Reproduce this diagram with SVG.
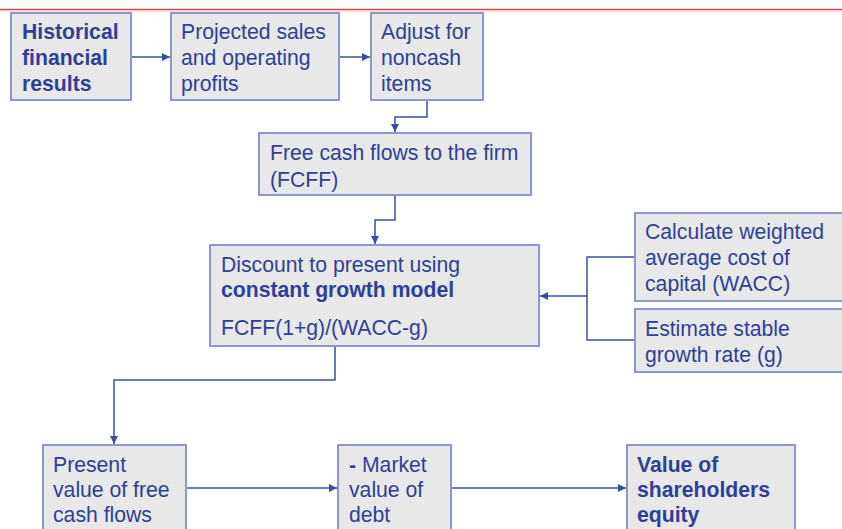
<svg xmlns="http://www.w3.org/2000/svg" width="842" height="529" viewBox="0 0 842 529">
<defs>
<style>
.box{fill:#e8e8e8;stroke:#8d97cc;stroke-width:2}
.t{font-family:"Liberation Sans",Arial,sans-serif;font-size:21.2px;fill:#2f3f99}
.b{font-weight:bold}
.c{fill:none;stroke:#3a4ea3;stroke-width:1.5}
</style>
<marker id="ah" viewBox="0 0 10 10" refX="10" refY="5" markerWidth="8" markerHeight="8" markerUnits="userSpaceOnUse" orient="auto">
<path d="M0,0 L10,5 L0,10 z" fill="#3a4ea3"/>
</marker>
</defs>
<rect width="842" height="529" fill="#ffffff"/>
<line x1="0" y1="9.5" x2="842" y2="9.5" stroke="#d9444a" stroke-width="1.5"/>
<line x1="0" y1="11" x2="842" y2="11" stroke="#f2c4c6" stroke-width="1"/>

<g id="connectors">
<path class="c" d="M131,57 H170" marker-end="url(#ah)"/>
<path class="c" d="M339,57 H370" marker-end="url(#ah)"/>
<path class="c" d="M427,100 V117 H395 V132" marker-end="url(#ah)"/>
<path class="c" d="M395,195 V220 H375 V244" marker-end="url(#ah)"/>
<path class="c" d="M635,257 H587 V340 H635"/>
<path class="c" d="M587,296 H540" marker-end="url(#ah)"/>
<path class="c" d="M335,346 V380 H114 V444" marker-end="url(#ah)"/>
<path class="c" d="M186,488 H337" marker-end="url(#ah)"/>
<path class="c" d="M451,488 H626" marker-end="url(#ah)"/>
</g>

<g id="historical">
<rect class="box" x="11" y="13" width="120" height="87"/>
<text class="t b" x="22" y="39">Historical</text>
<text class="t b" x="22" y="65">financial</text>
<text class="t b" x="22" y="91">results</text>
</g>
<g id="projected">
<rect class="box" x="171" y="13" width="168" height="87"/>
<text class="t" x="181" y="39">Projected sales</text>
<text class="t" x="181" y="65">and operating</text>
<text class="t" x="181" y="91">profits</text>
</g>
<g id="adjust">
<rect class="box" x="371" y="13" width="112" height="87"/>
<text class="t" x="381" y="39">Adjust for</text>
<text class="t" x="381" y="65">noncash</text>
<text class="t" x="381" y="91">items</text>
</g>
<g id="fcff">
<rect class="box" x="259" y="133" width="272" height="62"/>
<text class="t" x="270" y="160">Free cash flows to the firm</text>
<text class="t" x="270" y="187">(FCFF)</text>
</g>
<g id="discount">
<rect class="box" x="210" y="245" width="329" height="101"/>
<text class="t" x="221" y="272">Discount to present using</text>
<text class="t b" x="221" y="297">constant growth model</text>
<text class="t" x="221" y="335">FCFF(1+g)/(WACC-g)</text>
</g>
<g id="wacc">
<rect class="box" x="635" y="213" width="220" height="88"/>
<text class="t" x="645" y="239">Calculate weighted</text>
<text class="t" x="645" y="265">average cost of</text>
<text class="t" x="645" y="291">capital (WACC)</text>
</g>
<g id="growth">
<rect class="box" x="635" y="309" width="220" height="63"/>
<text class="t" x="645" y="336">Estimate stable</text>
<text class="t" x="645" y="362">growth rate (g)</text>
</g>
<g id="pv">
<rect class="box" x="43" y="445" width="143" height="100"/>
<text class="t" x="53" y="472">Present</text>
<text class="t" x="53" y="497">value of free</text>
<text class="t" x="53" y="522">cash flows</text>
</g>
<g id="debt">
<rect class="box" x="338" y="445" width="113" height="100"/>
<text class="t" x="349" y="472"><tspan class="b">-</tspan> Market</text>
<text class="t" x="349" y="497">value of</text>
<text class="t" x="349" y="522">debt</text>
</g>
<g id="equity">
<rect class="box" x="627" y="445" width="168" height="100"/>
<text class="t b" x="637" y="472">Value of</text>
<text class="t b" x="637" y="497">shareholders</text>
<text class="t b" x="637" y="522">equity</text>
</g>
</svg>
